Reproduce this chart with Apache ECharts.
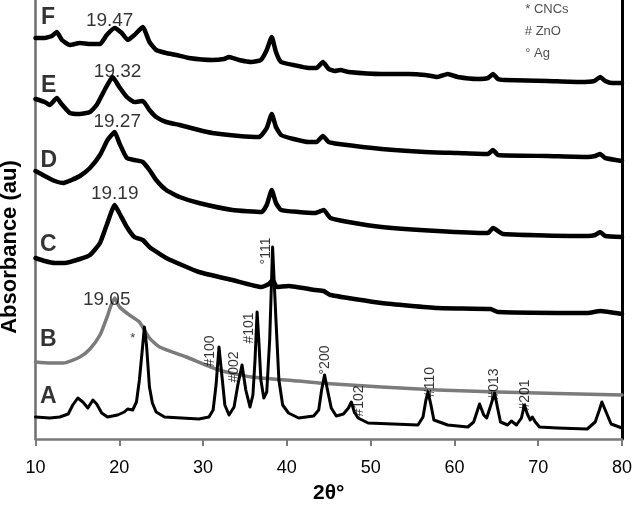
<!DOCTYPE html>
<html>
<head>
<meta charset="utf-8">
<script src="https://cdn.jsdelivr.net/npm/echarts@6/dist/echarts.min.js"></script>
<style>html,body{margin:0;padding:0;background:#fff}#c{width:635px;height:512px}</style>
</head>
<body>
<div id="c"></div>
<script>
// ---- data (2θ in degrees, intensity in arbitrary units) ----
const xTicks = [10, 20, 30, 40, 50, 60, 70, 80];

const thetaF = [10,11.1,11.96,12.55,13.15,14.1,15.3,16.5,17.7,18.5,19.45,20.3,21,21.8,22.8,23.6,24.4,25.6,26.8,28.3,31.1,32.5,33.1,34.3,35.8,36.9,37.6,38.2,38.7,39.3,40.8,42.6,43.55,44.3,45,45.7,46.4,47.35,51.3,54.5,56.5,58,59.2,60.4,62.8,64,64.6,65.2,66,71.1,75,76.7,77.4,78,78.8,80];
const valF   = [401,401,403,407,399,394,396,395,395,404,411,406,399,404,412,397,389,386,384,381,379,380,382,379,377,379,389,402,387,377,374,371,371,377,370,368,369,367,365,365,364,362,365,362,360,361,365,360,359,358,357,358,362,358,356,356];

const thetaE = [10,11.1,11.7,12.55,13.1,14.1,15.3,16.5,17.3,18.25,19.2,20,20.9,21.8,22.8,23.6,24.4,25.6,27.2,29.5,31.1,34.3,36.7,37.6,38.2,38.7,39.3,40.8,42.6,43.55,44.3,45,46.2,51.3,56.5,60.4,64,64.6,65.2,71.1,75.9,76.8,77.4,78,80];
const valE   = [340,337,334,341,335,326,325,327,334,349,362,352,342,337,338,329,322,317,314,309,306,303,302,311,325,312,304,300,297,297,303,297,295,290,287,286,285,289,284,283,282,283,285,281,278];

const thetaD = [10,11.1,12.3,13.3,14.3,15.3,16.5,17.7,18.6,19.45,20,20.9,21.8,22.8,23.6,24.4,25.6,27.2,29.5,33.5,37,37.6,38.2,38.7,39.3,41.4,43.4,44.4,45.2,47.35,51.3,58,64,64.6,65.8,75.9,76.8,77.4,78,80];
const valD   = [268,263,258,256,259,263,271,284,299,307,296,281,279,277,269,259,249,242,236,229,227,234,249,236,229,227,226,229,221,217,212,208,206,211,205,203,204,207,203,202];

const thetaC = [10,11.1,12.3,13.5,15.3,16.5,17.7,18.5,19.45,20,20.9,21.8,22.8,23.6,25.6,29.5,33.5,37,37.85,38.3,38.8,40.2,43.4,44.4,45.2,51.3,58,64.3,65.2,75.9,77.4,80];
const valC   = [181,178,176,176,180,184,196,214,234,226,212,202,199,192,181,167,159,152,155,159,152,153,149,148,144,136,131,130,127,126,128,125];

const thetaB = [10,11.7,13.3,15.3,16.5,17.7,18.5,19.45,20.04,21.2,22.4,23.6,24.8,28,31.9,35.8,41.4,43.8,51.3,58,65.2,80];
const valB   = [77,76,76,82,90,104,121,141,132,124,117,101,92,82,69,62,58,56,52,49,47,44];

const thetaA = [10,11.7,12.9,13.9,14.45,15.05,15.65,16.25,16.85,17.3,17.9,18.6,19.8,20.6,21,21.6,22.05,22.4,22.8,23.0,23.25,23.6,23.95,24.4,25.4,29.5,30.7,31.2,31.55,31.9,32.3,32.6,33.1,33.7,34.15,34.65,35.1,35.6,35.95,36.2,36.45,36.65,36.9,37.25,37.6,37.95,38.3,38.7,39.05,39.5,40.2,41.4,43.2,43.8,44.15,44.5,44.85,45.3,45.9,46.75,47.35,47.7,48.05,48.5,49.7,55.65,56.25,56.6,56.85,57.2,57.55,59.2,61.6,62.3,63,63.5,63.85,64.35,64.8,65.15,65.5,66.35,66.8,67.4,68,68.35,68.7,69.05,69.3,69.65,70.15,72.3,75.85,76.8,77.3,77.6,78.1,78.7,80];
const valA   = [22,21,22,25,34,41,37,31,39,35,26,22,24,27,30,29,37,59,94,112,94,52,36,27,22,20,22,29,54,92,59,34,24,32,54,74,49,32,44,79,127,99,59,41,47,99,192,119,59,34,26,21,23,29,49,64,49,31,23,25,31,37,27,21,16,14,22,39,47,34,19,14,12,17,35,24,21,34,46,31,17,14,18,14,21,34,25,19,22,17,12,11,10,17,29,37,27,15,11];

// curve names and their label anchors
const curveNames   = ['F', 'E', 'D', 'C', 'B', 'A'];
const curveLabelX  = [10.65, 10.65, 10.6, 10.55, 10.55, 10.55];
const curveLabelY  = [421, 353, 278, 194, 99, 42];

// crystallinity peak positions
const peakTexts = ['19.47', '19.32', '19.27', '19.19', '19.05'];
const peakX     = [18.85, 19.8, 19.75, 19.45, 18.5];
const peakY     = [418, 367, 317, 245, 139];

// reflection annotations on curve A
const annoTexts = ['#100', '#002', '#101', '°111', '°200', '#102', '#110', '#013', '#201'];
const annoX     = [30.85, 33.7, 35.5, 37.5, 44.6, 48.65, 57.1, 64.8, 68.5];
const annoY     = [88, 72, 111, 188, 79, 38, 57, 55, 44];
const starText  = '*';
const starX     = 21.6;
const starY     = 101;

// key
const keyTexts = ['* CNCs', '# ZnO', '° Ag'];
const keyX     = [68.45, 68.4, 68.45];
const keyY     = [430, 408, 386];

// ---- chart ----
const FONT = 'Liberation Sans, Arial, Helvetica, sans-serif';
function pairs(xs, ys) { return xs.map((x, i) => [x, ys[i]]); }

const lineSeries = [
  {name: 'B', x: thetaB, y: valB, color: '#7b7b7b', w: 3.5, s: 0.2},
  {name: 'A', x: thetaA, y: valA, color: '#000000', w: 3, s: 0},
  {name: 'C', x: thetaC, y: valC, color: '#000000', w: 4.5, s: 0.15},
  {name: 'D', x: thetaD, y: valD, color: '#000000', w: 4.5, s: 0.15},
  {name: 'E', x: thetaE, y: valE, color: '#000000', w: 4.5, s: 0.15},
  {name: 'F', x: thetaF, y: valF, color: '#000000', w: 4.5, s: 0.15}
].map(s => ({
  type: 'line', name: s.name, data: pairs(s.x, s.y),
  showSymbol: false, symbol: 'none', smooth: s.s,
  lineStyle: {color: s.color, width: s.w, join: 'round', cap: 'round'},
  silent: true, z: 2
}));

function textSeries(texts, xs, ys, fontSize, weight, rotate, align, color) {
  return {
    type: 'scatter', silent: true, z: 5,
    symbolSize: 1, itemStyle: {color: 'transparent'},
    data: texts.map((t, i) => ({name: t, value: [xs[i], ys[i]]})),
    label: {
      show: true, position: 'inside', formatter: p => p.name,
      fontFamily: FONT, fontSize: fontSize, fontWeight: weight, color: color || '#000',
      textBorderWidth: 0, textShadowBlur: 0,
      rotate: rotate, align: align || 'center', verticalAlign: 'middle'
    }
  };
}

const chart = echarts.init(document.getElementById('c'), null, {renderer: 'canvas'});
chart.setOption({
  animation: false,
  backgroundColor: '#ffffff',
  grid: {left: 35.5, right: 10, top: 0, bottom: 73, containLabel: false},
  xAxis: {
    type: 'value', min: xTicks[0], max: xTicks[xTicks.length - 1], interval: 10,
    name: '2θ°', nameLocation: 'middle', nameGap: 44,
    nameTextStyle: {fontFamily: FONT, fontSize: 21, fontWeight: 'bold', color: '#000'},
    axisLine: {show: true, onZero: false, lineStyle: {color: '#7a7a7a', width: 2.5}},
    axisTick: {show: true, length: 7, lineStyle: {color: '#7a7a7a', width: 2}},
    axisLabel: {fontFamily: FONT, fontSize: 18, color: '#000', margin: 20},
    splitLine: {show: false}
  },
  yAxis: [
    {
      type: 'value', min: 0, max: 439,
      axisLine: {show: true, onZero: false, lineStyle: {color: '#6e6e6e', width: 2.5}},
      axisTick: {show: false}, axisLabel: {show: false}, splitLine: {show: false}
    },
    {
      type: 'value', min: 0, max: 439, position: 'right',
      axisLine: {show: true, onZero: false, lineStyle: {color: '#000', width: 3}},
      axisTick: {show: false}, axisLabel: {show: false}, splitLine: {show: false}
    }
  ],
  graphic: [{
    type: 'text', x: 10, y: 247, rotation: Math.PI / 2,
    style: {text: 'Absorbance (au)', fontFamily: FONT, fontSize: 22, fontWeight: 'bold',
            fill: '#000', align: 'center', verticalAlign: 'middle'}
  }],
  series: lineSeries.concat([
    textSeries(curveNames, curveLabelX, curveLabelY, 23, 'bold', 0, 'left'),
    textSeries(peakTexts, peakX, peakY, 19, 'normal', 0),
    textSeries(annoTexts, annoX, annoY, 14, 'normal', 90),
    textSeries([starText], [starX], [starY], 13, 'normal', 0),
    textSeries(keyTexts, keyX, keyY, 13, 'normal', 0, 'left', '#222')
  ])
});
</script>
</body>
</html>
